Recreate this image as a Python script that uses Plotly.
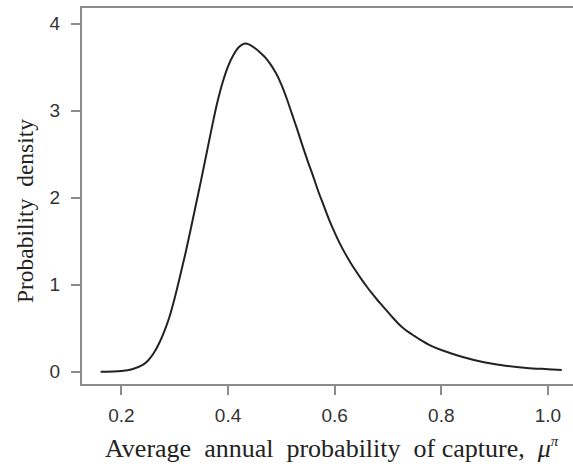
import plotly.graph_objects as go

x_vals = [0.161, 0.20, 0.22, 0.24, 0.25, 0.26, 0.27, 0.28, 0.29, 0.30,
          0.31, 0.32, 0.33, 0.34, 0.35, 0.36, 0.37, 0.38, 0.39, 0.40,
          0.41, 0.42, 0.43, 0.44, 0.45, 0.46, 0.47, 0.48, 0.49, 0.50,
          0.51, 0.52, 0.53, 0.54, 0.55, 0.56, 0.57, 0.58, 0.59, 0.60,
          0.61, 0.62, 0.63, 0.64, 0.65, 0.66, 0.67, 0.68, 0.69, 0.70,
          0.71, 0.72, 0.73, 0.74, 0.75, 0.76, 0.78, 0.80, 0.84, 0.88,
          0.92, 0.96, 1.00, 1.026]
y_vals = [0.0, 0.01, 0.03, 0.08, 0.13, 0.21, 0.32, 0.46, 0.63, 0.85,
          1.10, 1.36, 1.64, 1.93, 2.22, 2.52, 2.82, 3.10, 3.33, 3.51,
          3.64, 3.73, 3.77, 3.76, 3.72, 3.67, 3.61, 3.53, 3.43, 3.30,
          3.14, 2.96, 2.78, 2.59, 2.41, 2.24, 2.06, 1.90, 1.74, 1.60,
          1.47, 1.355, 1.25, 1.155, 1.065, 0.98, 0.90, 0.825, 0.755, 0.685,
          0.615, 0.55, 0.495, 0.45, 0.41, 0.37, 0.30, 0.25, 0.17, 0.11,
          0.07, 0.045, 0.03, 0.02]
x_ticks = [0.2, 0.4, 0.6, 0.8, 1.0]
x_tick_labels = ["0.2", "0.4", "0.6", "0.8", "1.0"]
y_ticks = [0, 1, 2, 3, 4]
x_title = ("Average  annual  probability  of capture,  <i>μ</i>"
           "<sup><span style='font-size:15px'><i>π</i></span></sup>")
y_title = "Probability  density"

fig = go.Figure()
fig.add_trace(go.Scatter(x=x_vals, y=y_vals, mode="lines",
                         line=dict(color="#222222", width=2, shape="spline", smoothing=1.0),
                         hoverinfo="skip", showlegend=False))

axis_common = dict(showgrid=False, zeroline=False, showline=True, linecolor="#8c8c8c",
                   linewidth=2, ticks="outside", tickcolor="#8c8c8c", tickwidth=1.5,
                   ticklen=9, tickfont=dict(family="Liberation Sans, Arial", size=19, color="#333333"))

fig.update_xaxes(range=[0.126, 1.047], tickvals=x_ticks, ticktext=x_tick_labels,
                 mirror=True, ticklabelstandoff=4, **axis_common)
fig.update_yaxes(range=[-0.14, 4.18], tickvals=y_ticks, mirror=False,
                 ticklabelstandoff=7, **axis_common)

fig.add_annotation(text=x_title, xref="paper", yref="paper", x=0.51, y=0, yshift=-64,
                   xanchor="center", yanchor="middle", showarrow=False,
                   font=dict(family="Liberation Serif, Times New Roman", size=26, color="#222222"))
fig.add_annotation(text=y_title, xref="paper", yref="paper", x=0, y=0.46, xshift=-57,
                   xanchor="center", yanchor="middle", textangle=-90, showarrow=False,
                   font=dict(family="Liberation Serif, Times New Roman", size=23.5, color="#222222"))

fig.update_layout(width=573, height=468, margin=dict(l=82, r=0, t=8, b=84),
                  plot_bgcolor="white", paper_bgcolor="white")
fig.write_html("out.html")
